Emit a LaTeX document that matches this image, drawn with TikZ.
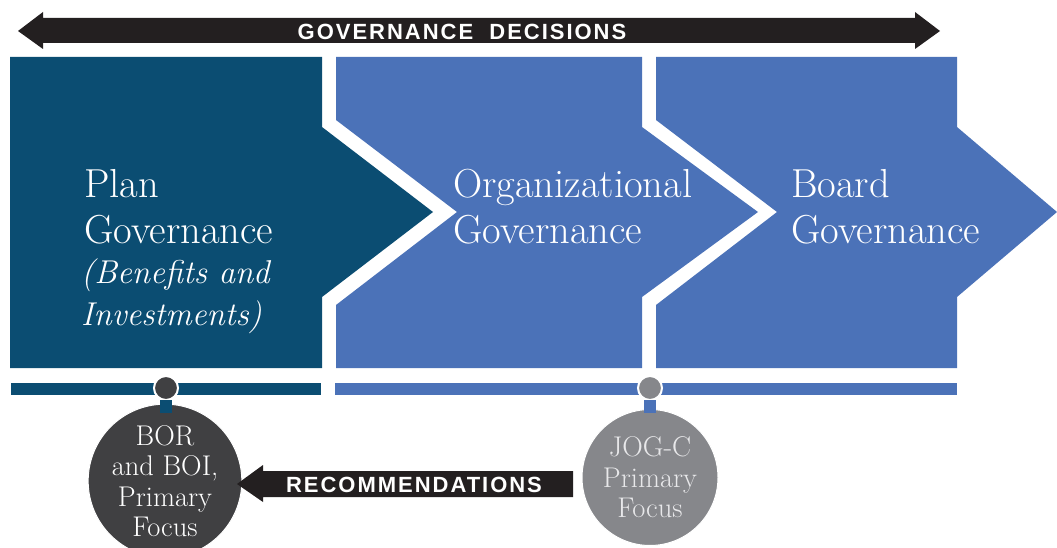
\documentclass[tikz,border=0pt]{standalone}
\usepackage{fontspec}
\newfontfamily\capsfont{Liberation Sans}[LetterSpace=9]
\definecolor{pdark}{RGB}{11,77,114}
\definecolor{pblue}{RGB}{75,114,184}
\definecolor{cdark}{RGB}{64,64,66}
\definecolor{cgray}{RGB}{134,135,139}
\definecolor{ablack}{RGB}{35,31,32}
\definecolor{ltext}{RGB}{232,232,234}
\tikzset{
  rtext/.style={anchor=base west, inner sep=0pt, text=white, font=\fontsize{40.5}{45}\selectfont},
  itext/.style={anchor=base west, inner sep=0pt, text=white, font=\fontsize{33}{40}\selectfont\itshape},
  captext/.style={inner sep=0pt, text=white, font=\capsfont\bfseries\fontsize{22}{26}\selectfont},
  bigcirc/.style={circle, minimum size=136pt, inner sep=0pt, draw=white, line width=1pt, align=center, font=\fontsize{28.5}{30.5}\selectfont},
  dot/.style={circle, minimum size=24pt, inner sep=0pt, draw=white, line width=2pt},
}
\begin{document}
\begin{tikzpicture}[x=1pt,y=-1pt]
\useasboundingbox (0,0) rectangle (1057,548);
% top double arrow
\fill[ablack] (18,31) -- (43,12) -- (43,18) -- (915,18) -- (915,12) -- (940,31) -- (915,49) -- (915,43) -- (43,43) -- (43,49) -- cycle;
\node[captext] (gd) at (462,31.5) {GOVERNANCE\ \ DECISIONS};
% panels
\fill[pdark] (10,57) -- (322,57) -- (322,127) -- (433,212) -- (322,297) -- (322,368) -- (10,368) -- cycle;
\fill[pblue] (336,57) -- (642,57) -- (642,127) -- (758,212) -- (642,297) -- (642,368) -- (336,368) -- (336,305) -- (457,212) -- (336,120) -- cycle;
\fill[pblue] (656,57) -- (957,57) -- (957,127) -- (1057,212) -- (957,297) -- (957,368) -- (656,368) -- (656,305) -- (777,212) -- (656,120) -- cycle;
% panel texts
\node[rtext] (p1a) at (84,198) {Plan};
\node[rtext] (p1b) at (84,243) {Governance};
\node[itext] (p1c) at (81,283) {(Benefits and};
\node[itext] (p1d) at (81,325) {Investments)};
\node[rtext] (p2a) at (453,198) {Organizational};
\node[rtext] (p2b) at (453,243) {Governance};
\node[rtext] (p3a) at (791,198) {Board};
\node[rtext] (p3b) at (791,243) {Governance};
% bars
\fill[pdark] (11,383) rectangle (321,395);
\fill[pblue] (335,383) rectangle (957,395);
% connectors and circles
\node[bigcirc, fill=cdark, text=white] (bor) at (165,481) {BOR\\and BOI,\\Primary\\Focus};
\node[bigcirc, fill=cgray, text=ltext] (jog) at (650,477.5) {JOG-C\\Primary\\Focus};
\node[dot, fill=cdark] (d1) at (166,388) {};
\node[dot, fill=cgray] (d2) at (650,388) {};
\fill[pdark] (160,400) rectangle (172,413);
\fill[pblue] (644,400) rectangle (656,413);
% recommendations arrow
\fill[ablack] (237,484) -- (263,465) -- (263,471) -- (573,471) -- (573,497) -- (263,497) -- (263,502) -- cycle;
\node[captext] (rec) at (414,484.5) {RECOMMENDATIONS};
\end{tikzpicture}
\end{document}
